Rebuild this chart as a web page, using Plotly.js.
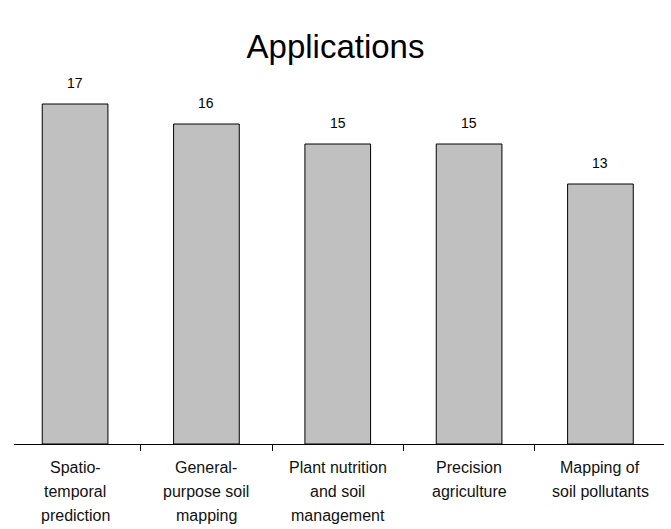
<!DOCTYPE html>
<html>
<head>
<meta charset="utf-8">
<script src="https://cdn.plot.ly/plotly-3.0.1.min.js"></script>
<style>
  html, body { margin: 0; padding: 0; background: #ffffff; }
  #chart { width: 671px; height: 529px; }
</style>
</head>
<body>
<div id="chart"></div>
<script>
// Number of studies per application area
const categories = [
  "Spatio-temporal prediction",
  "General-purpose soil mapping",
  "Plant nutrition and soil management",
  "Precision agriculture",
  "Mapping of soil pollutants"
];
const labelLines = [
  ["Spatio-", "temporal", "prediction"],
  ["General-", "purpose soil", "mapping"],
  ["Plant nutrition", "and soil", "management"],
  ["Precision", "agriculture"],
  ["Mapping of", "soil pollutants"]
];
const counts = [17, 16, 15, 15, 13];

const FONT = "Liberation Sans, Arial, sans-serif";
const idx = categories.map((_, i) => i);

const trace = {
  type: "bar",
  x: idx,
  y: counts,
  width: 0.5,
  marker: { color: "#c0c0c0", line: { color: "#000000", width: 1 } },
  hoverinfo: "skip"
};

const annotations = [];
// value labels above each bar
counts.forEach((v, i) => {
  annotations.push({
    x: i, y: v, xref: "x", yref: "y",
    text: String(v), showarrow: false,
    yanchor: "middle", yshift: 21,
    font: { family: FONT, size: 14, color: "#000000" }
  });
});
// multi-line category labels under the axis
labelLines.forEach((lines, i) => {
  lines.forEach((t, k) => {
    annotations.push({
      x: i, y: 0, xref: "x", yref: "y",
      text: t, showarrow: false,
      yanchor: "middle", yshift: -(23 + 24 * k),
      font: { family: FONT, size: 16, color: "#111111" }
    });
  });
});

const layout = {
  width: 671,
  height: 529,
  margin: { l: 14, r: 7, t: 60, b: 85 },
  paper_bgcolor: "#ffffff",
  plot_bgcolor: "#ffffff",
  showlegend: false,
  title: {
    text: "Applications",
    font: { family: FONT, size: 33, color: "#000000" },
    x: 0.5, xanchor: "center",
    y: 1 - 46 / 529, yanchor: "middle", yref: "container"
  },
  xaxis: {
    type: "linear",
    range: [-0.465, 4.484],
    tickvals: [-0.5, 0.5, 1.5, 2.5, 3.5, 4.5],
    showticklabels: false,
    ticks: "outside",
    ticklen: 6,
    tickcolor: "#000000",
    tickwidth: 1,
    showgrid: false,
    zeroline: false,
    showline: true,
    linecolor: "#000000",
    linewidth: 1,
    fixedrange: true
  },
  yaxis: {
    range: [0, 19.2],
    visible: false,
    showgrid: false,
    zeroline: false,
    fixedrange: true
  },
  annotations: annotations
};

Plotly.newPlot("chart", [trace], layout, { displayModeBar: false, staticPlot: true });
</script>
</body>
</html>
